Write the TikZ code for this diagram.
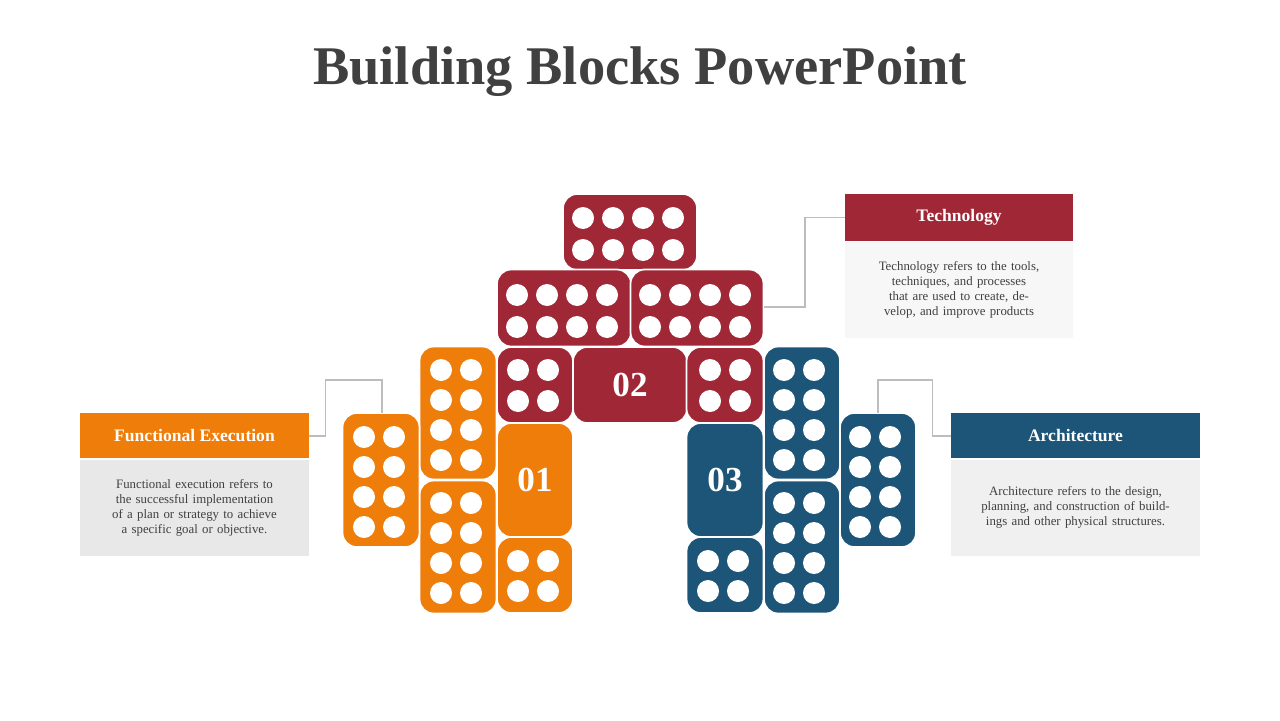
\documentclass[tikz,border=0pt]{standalone}
\usepackage{fontspec}
\setmainfont{Liberation Serif}
\usetikzlibrary{positioning}
\definecolor{techred}{HTML}{A02736}
\definecolor{funcorange}{HTML}{EF7D0A}
\definecolor{archblue}{HTML}{1D5579}
\definecolor{titlegray}{HTML}{404040}
\definecolor{linegray}{HTML}{BDBDBD}
\tikzset{
  blk/.style={draw=white, line width=1pt, rounded corners=8pt, inner sep=0pt},
  dot/.style={circle, fill=white, minimum size=0.44cm, inner sep=0pt},
  num/.style={text=white, font=\bfseries\fontsize{20}{22}\selectfont},
  head/.style={text=white, font=\bfseries\fontsize{10}{12}\selectfont, inner sep=0pt},
  body/.style={text=titlegray, font=\fontsize{7.3}{8.6}\selectfont, align=center, text width=3.9cm},
  link/.style={draw=linegray, line width=0.9pt}
}
\begin{document}
\begin{tikzpicture}[x=0.02cm, y=-0.02cm]
        \useasboundingbox (0,0) rectangle (1280,720);
        \node[titlegray, font=\bfseries\fontsize{31}{36}\selectfont] at (640,72)(title){Building Blocks PowerPoint};

        % red blocks
        \node[blk, fill=techred, minimum width=2.68cm, minimum height=1.52cm] at (630,232)(r1){};
        \node[blk, fill=techred, minimum width=2.68cm, minimum height=1.54cm] at (564,308)(r2){};
        \node[blk, fill=techred, minimum width=2.66cm, minimum height=1.54cm] at (697,308)(r3){};
        \node[blk, fill=techred, minimum width=1.52cm, minimum height=1.52cm] at (535,385)(r4){};
        \node[blk, fill=techred, minimum width=2.28cm, minimum height=1.52cm] at (630,385)(r5){};
        \node[blk, fill=techred, minimum width=1.54cm, minimum height=1.52cm] at (725,385)(r6){};
        \node[num] at (r5)(n2){02};
        \foreach \x in {583,613,643,673} \foreach \y in {218,250} \node[dot] at (\x,\y){};
        \foreach \x in {517,547,577,607,650,680,710,740} \foreach \y in {295,327} \node[dot] at (\x,\y){};
        \foreach \x in {518,548,710,740} \foreach \y in {370,401} \node[dot] at (\x,\y){};

        % orange blocks
        \node[blk, fill=funcorange, minimum width=1.54cm, minimum height=2.66cm] at (458,413)(o1){};
        \node[blk, fill=funcorange, minimum width=1.54cm, minimum height=2.66cm] at (458,547)(o2){};
        \node[blk, fill=funcorange, minimum width=1.54cm, minimum height=2.68cm] at (381,480)(o3){};
        \node[blk, fill=funcorange, minimum width=1.52cm, minimum height=2.28cm] at (535,480)(o4){};
        \node[blk, fill=funcorange, minimum width=1.52cm, minimum height=1.52cm] at (535,575)(o5){};
        \node[num] at (o4)(n1){01};
        \foreach \x in {441,471} \foreach \y in {370,400,430,460,503,533,563,593} \node[dot] at (\x,\y){};
        \foreach \x in {364,394} \foreach \y in {437,467,497,527} \node[dot] at (\x,\y){};
        \foreach \x in {518,548} \foreach \y in {561,591} \node[dot] at (\x,\y){};

        % blue blocks
        \node[blk, fill=archblue, minimum width=1.54cm, minimum height=2.28cm] at (725,480)(b1){};
        \node[blk, fill=archblue, minimum width=1.54cm, minimum height=1.52cm] at (725,575)(b2){};
        \node[blk, fill=archblue, minimum width=1.52cm, minimum height=2.66cm] at (802,413)(b3){};
        \node[blk, fill=archblue, minimum width=1.52cm, minimum height=2.66cm] at (802,547)(b4){};
        \node[blk, fill=archblue, minimum width=1.52cm, minimum height=2.68cm] at (878,480)(b5){};
        \node[num] at (b1)(n3){03};
        \foreach \x in {708,738} \foreach \y in {561,591} \node[dot] at (\x,\y){};
        \foreach \x in {784,814} \foreach \y in {370,400,430,460,503,533,563,593} \node[dot] at (\x,\y){};
        \foreach \x in {860,890} \foreach \y in {437,467,497,527} \node[dot] at (\x,\y){};

        % text boxes
        \node[fill=techred, minimum width=4.56cm, minimum height=0.94cm, head] at (959,217.5)(th){Technology};
        \node[fill=black!3, minimum width=4.56cm, minimum height=1.92cm, below=0pt of th, body](tb){Technology refers to the tools, techniques, and processes that are used to create, develop, and improve products};
        \node[fill=funcorange, minimum width=4.58cm, minimum height=0.92cm, head] at (194.5,436)(fh){Functional Execution};
        \node[fill=black!9, minimum width=4.58cm, minimum height=1.92cm, below=0pt of fh, body](fb){Functional execution refers to the successful implementation of a plan or strategy to achieve a specific goal or objective.};
        \node[fill=archblue, minimum width=4.98cm, minimum height=0.92cm, head] at (1075.5,436)(ah){Architecture};
        \node[fill=black!6, minimum width=4.98cm, minimum height=1.92cm, below=0pt of ah, body](ab){Architecture refers to the design, planning, and construction of buildings and other physical structures.};
        \draw[white, line width=1pt] (fh.south west) -- (fh.south east) (ah.south west) -- (ah.south east);

        % connectors
        \coordinate (c1) at (764,307);
        \coordinate (c2) at (382,413);
        \coordinate (c3) at (878,413);
        \path[link] (c1) -- (805,307) |- (th.west);
        \path[link] (fh.east) -- ++(16,0) |- (382,380) -- (c2);
        \path[link] (ah.west) -- ++(-18,0) |- (878,380) -- (c3);
    \end{tikzpicture}
\end{document}
